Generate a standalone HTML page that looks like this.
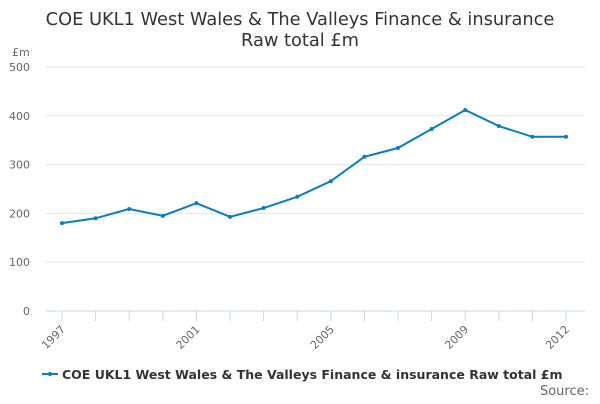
<!DOCTYPE html>
<html><head><meta charset="utf-8"><style>
body{margin:0;background:#fff;font-family:"DejaVu Sans","Liberation Sans",sans-serif;}
</style></head><body>
<svg width="600" height="400" xmlns="http://www.w3.org/2000/svg" font-family="DejaVu Sans, Liberation Sans, sans-serif">
<text x="300" y="25" text-anchor="middle" font-size="17.8" fill="#333">COE UKL1 West Wales &amp; The Valleys Finance &amp; insurance</text>
<text x="300" y="46" text-anchor="middle" font-size="17.8" fill="#333">Raw total £m</text>
<text x="12" y="56" font-size="11" fill="#666">£m</text>
<g id="grid"></g><g id="xax"></g><g id="series"></g>
<g>
<line x1="42" y1="374" x2="58" y2="374" stroke="#0a7dc2" stroke-width="2"/>
<circle cx="50" cy="374" r="2" fill="#0a7dc2"/>
<text x="62" y="379" font-size="12.5" font-weight="bold" fill="#333">COE UKL1 West Wales &amp; The Valleys Finance &amp; insurance Raw total £m</text>
</g>
<text x="589" y="395" text-anchor="end" font-size="13" fill="#666">Source:</text>
</svg>
<script>
const years=[1997,1998,1999,2000,2001,2002,2003,2004,2005,2006,2007,2008,2009,2010,2011,2012];
const values=[180,190,209,195,221,193,211,234,266,316,334,373,412,379,357,357];
const yTicks=[0,100,200,300,400,500];
const xLabels=[1997,2001,2005,2009,2012];
const NS="http://www.w3.org/2000/svg";
const x=v=>62+(v-1997)*33.6;
const y=v=>311-v*0.488;
function mk(t,a,p){const e=document.createElementNS(NS,t);for(const k in a)e.setAttribute(k,a[k]);p.appendChild(e);return e;}
const g=document.getElementById('grid');
yTicks.forEach(t=>{
 const l=mk('line',{x1:45,x2:585,y1:y(t),y2:y(t),stroke:t===0?'#ccd6eb':'#e6e6e6'},g);
 
 
 const tx=mk('text',{x:30,y:y(t)+4,'text-anchor':'end','font-size':11,fill:'#666'},g);tx.textContent=t;
 
 
});
const xa=document.getElementById('xax');
years.forEach(yr=>{mk('line',{x1:x(yr),x2:x(yr),y1:311,y2:321,stroke:'#ccd6eb'},xa);});
xLabels.forEach(yr=>{
 const t=mk('text',{x:x(yr)+4,y:330,'text-anchor':'end','font-size':11,fill:'#666',transform:`rotate(-45 ${x(yr)+4} 330)`},xa);t.textContent=yr;
 
 
});
const s=document.getElementById('series');
const p=mk('path',{d:years.map((yr,i)=>(i?'L':'M')+x(yr)+' '+y(values[i])).join(' '),fill:'none',stroke:'#0a7dc2','stroke-width':2},s);


years.forEach((yr,i)=>{const c=mk('circle',{cx:x(yr),cy:y(values[i]),r:2,fill:'#0a7dc2'},s);
 
 });
</script>
</body></html>
